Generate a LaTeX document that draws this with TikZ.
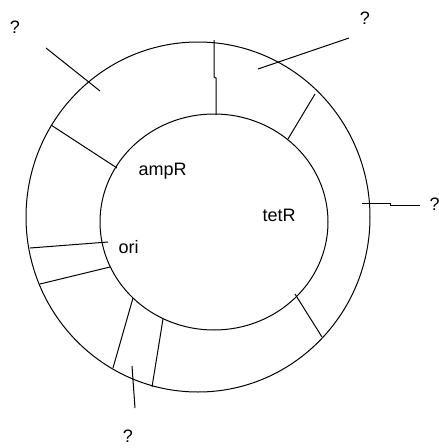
\documentclass[tikz,border=0pt]{standalone}
\usepackage{fontspec}
\setmainfont{Liberation Sans}
\begin{document}
\begin{tikzpicture}[x=1pt,y=-1pt,
  line width=1pt,
  lbl/.style={font=\fontsize{18}{21}\selectfont, inner sep=0pt},
  seg/.style={draw=black, line width=1pt}]
\useasboundingbox (0,0) rectangle (439,448);
% rings
\draw (198,217) ellipse [x radius=172, y radius=175];
\draw (214,222) ellipse [x radius=114, y radius=108];
% labels
\node[lbl, anchor=base west] (amp) at (138,175) {ampR};
\node[lbl, anchor=base west] (tet) at (262,221) {tetR};
\node[lbl, anchor=base west] (ori) at (118,253) {ori};
\node[lbl] (qa) at (15,27) {?};
\node[lbl] (qb) at (365,18) {?};
\node[lbl, anchor=west] (qc) at (429,204) {?};
\node[lbl] (qd) at (128,436) {?};
% segment end points
\coordinate (t1) at (214,40);  \coordinate (t2) at (214,77);
\coordinate (t3) at (216,78);  \coordinate (t4) at (216,115);
\coordinate (a1) at (46,48);   \coordinate (a2) at (100,91);
\coordinate (b1) at (51,125);  \coordinate (b2) at (117,168);
\coordinate (c1) at (30,248);  \coordinate (c2) at (108,242);
\coordinate (d1) at (40,284);  \coordinate (d2) at (110,267);
\coordinate (e1) at (113,368); \coordinate (e2) at (133,298);
\coordinate (f1) at (152,387); \coordinate (f2) at (163,319);
\coordinate (g1) at (132,366); \coordinate (g2) at (135,408);
\coordinate (h1) at (295,294); \coordinate (h2) at (322,337);
\coordinate (i1) at (362,203); \coordinate (i2) at (390,203);
\coordinate (i3) at (390,205); \coordinate (i4) at (420,205);
\coordinate (j1) at (288,139); \coordinate (j2) at (315,94);
\coordinate (k1) at (258,69);  \coordinate (k2) at (349,38);
% segments
\draw[seg] (t1) -- (t2) -- (t3) -- (t4);
\draw[seg] (a1) -- (a2);
\draw[seg] (b1) -- (b2);
\draw[seg] (c1) -- (c2);
\draw[seg] (d1) -- (d2);
\draw[seg] (e1) -- (e2);
\draw[seg] (f1) -- (f2);
\draw[seg] (g1) -- (g2);
\draw[seg] (h1) -- (h2);
\draw[seg] (i1) -- (i2) -- (i3) -- (i4);
\draw[seg] (j1) -- (j2);
\draw[seg] (k1) -- (k2);
\end{tikzpicture}
\end{document}
